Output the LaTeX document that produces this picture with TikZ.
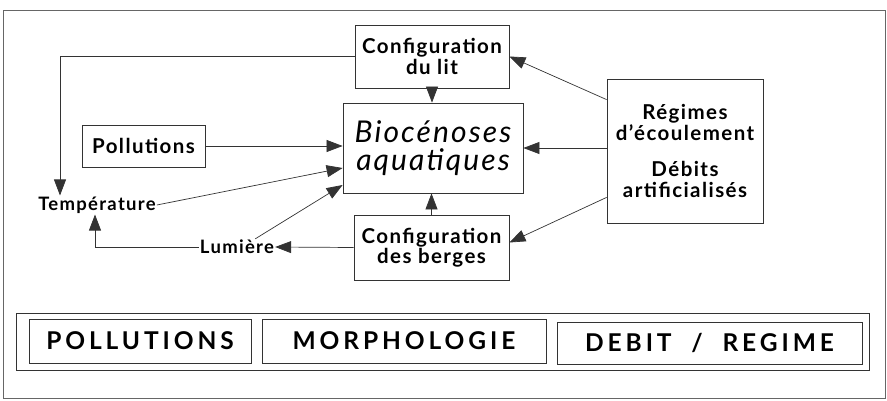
\documentclass[tikz,border=0pt]{standalone}
\usepackage{fontspec}
\setmainfont{Lato}[LetterSpace=7]
\newfontfamily\tagfont{Lato}[LetterSpace=16]
\usetikzlibrary{arrows.meta, positioning}

\begin{document}
\begin{tikzpicture}[x=1pt, y=-1pt,
        box/.style={rectangle, draw=black!80, line width=0.8pt,
                    align=center, inner sep=0pt,
                    font=\bfseries\fontsize{20.5}{20.5}\selectfont},
        word/.style={inner sep=1pt, font=\bfseries\fontsize{18.5}{18}\selectfont},
        tag/.style={rectangle, draw=black!80, line width=0.8pt, inner sep=0pt,
                    font=\tagfont\bfseries\fontsize{24.5}{24}\selectfont},
        arrow/.style={-{Triangle[length=16pt, width=12pt]}, line width=0.7pt,
                      draw=black!80},
    ]
    \useasboundingbox (0,0) rectangle (887,401);
    \draw[black!60, line width=0.8pt] (3,10) rectangle (885,398);

    % centre
    \node[box, minimum width=180pt, minimum height=90pt,
          font=\itshape\fontsize{30}{28}\selectfont] (bio) at (433,148)
          {Biocénoses\\aquatiques};
    \node[box, minimum width=154pt, minimum height=63pt] (lit) at (432,56.5)
          {Configuration\\du lit};
    \node[box, minimum width=155pt, minimum height=65pt] (berges) at (431.5,247.5)
          {Configuration\\des berges};
    \node[box, minimum width=123pt, minimum height=42pt] (poll) at (143.5,146)
          {Pollutions};
    \node[box, minimum width=156pt, minimum height=144pt] (reg) at (685,151)
          {Régimes\\d’écoulement\\[16pt]Débits\\artificialisés};

    % facteurs sans cadre
    \node[word] (temp) at (97,205) {Température};
    \node[word] (lum) at (237,247) {Lumière};

    \draw[arrow] (lit.south) -- (lit.south |- bio.north);
    \draw[arrow] (berges.north) -- (berges.north |- bio.south);
    \draw[arrow] (poll.east) -- (poll.east -| bio.west);
    \draw[arrow] ([yshift=3pt]reg.west) -- (bio.east);
    \draw[arrow] ([yshift=-21pt]reg.north west) -- (lit.east);
    \draw[arrow] ([yshift=26pt]reg.south west) -- ([yshift=5pt]berges.east);
    \draw[arrow] (temp.east) -- ([yshift=-20pt]bio.west);
    \draw[arrow] ([xshift=-20pt]lum.north east) -- ([yshift=-37pt]bio.west);
    \draw[arrow] (berges.west) -- (lum.east);
    \draw[arrow] (lit.west) -| ([xshift=-37pt]temp.north);
    \draw[arrow] (lum.west) -| ([xshift=-2pt]temp.south);

    % bandeau du bas
    \draw[black!80, line width=0.8pt] (16,313) rectangle (869,370);
    \node[tag, minimum width=222pt, minimum height=44pt] (tp) at (140,341) {POLLUTIONS};
    \node[tag, minimum width=284pt, minimum height=44pt] (tm) at (404,341) {MORPHOLOGIE};
    \node[tag, minimum width=305pt, minimum height=42pt] (td) at (709.5,343) {DEBIT\ \ /\ \ REGIME};

\end{tikzpicture}
\end{document}
